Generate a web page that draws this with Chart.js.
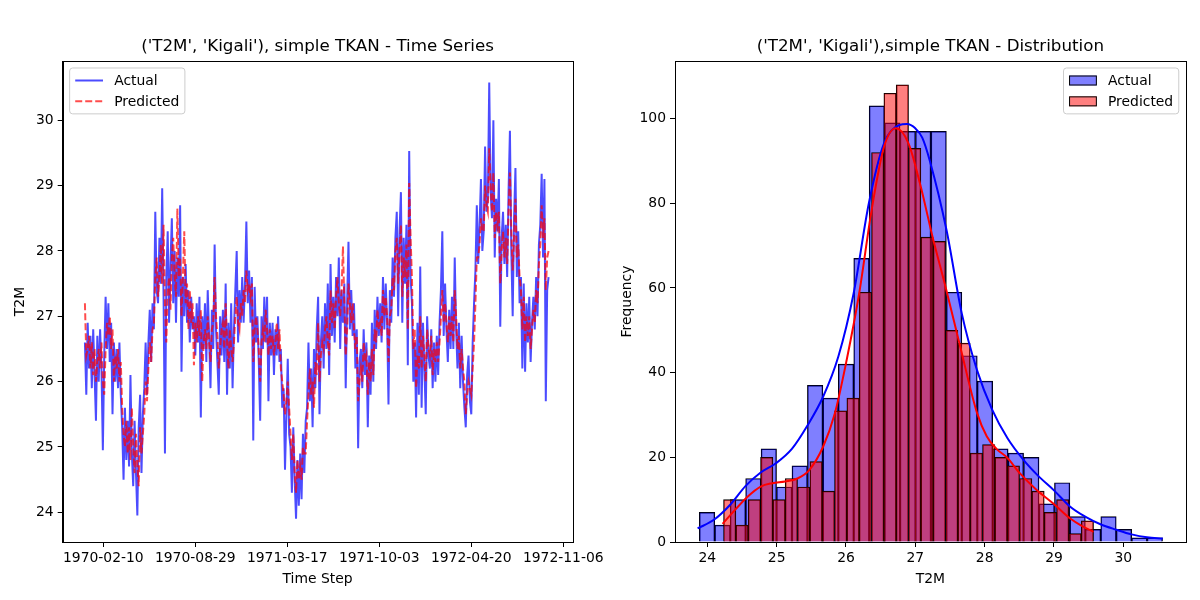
<!DOCTYPE html>
<html>
<head>
<meta charset="utf-8">
<title>T2M Kigali - simple TKAN</title>
<script src="https://cdn.jsdelivr.net/npm/chart.js@4.4.1/dist/chart.umd.min.js"></script>
<style>
  html, body { margin: 0; padding: 0; background: #fff; }
  #wrap { position: relative; width: 1200px; height: 600px; overflow: hidden; }
  canvas { position: absolute; top: 0; }
  #ts { left: 0; }
  #dist { left: 600px; }
</style>
</head>
<body>
<div id="wrap">
  <canvas id="ts" width="620" height="600"></canvas>
  <canvas id="dist" width="600" height="600"></canvas>
</div>
<script>
// ---- time series (one value every 3 days) ----
const startDate = '1970-01-01';
const stepDays = 3;
const dateTicks = ['1970-02-10', '1970-08-29', '1971-03-17', '1971-10-03', '1972-04-20', '1972-11-06'];

const actualT2M = [
  26.6, 25.8, 26.9, 26.2, 26.7, 25.9, 26.8, 26.1, 25.4, 26.7,
  26.0, 26.8, 26.2, 24.95, 26.4, 27.3, 26.5, 27.2, 26.3, 26.9,
  25.5, 26.6, 26.0, 26.5, 25.9, 26.6, 25.8, 25.3, 24.5, 25.6,
  24.8, 25.4, 24.7, 26.1, 24.9, 24.4, 25.4, 24.6, 23.95, 25.3,
  25.8, 24.6, 25.5, 25.9, 26.6, 25.8, 26.6, 27.1, 26.3, 27.2,
  26.8, 28.6, 27.4, 27.2, 28.2, 27.5, 28.96, 27.3, 24.9, 27.6,
  28.3, 26.9, 27.8, 28.5, 27.2, 28.0, 26.9, 27.9, 27.3, 28.7,
  26.15, 27.6, 27.0, 27.8, 26.9, 27.4, 26.6, 27.3, 26.8, 27.0,
  26.4, 27.2, 26.6, 27.3, 25.45, 27.0, 26.5, 27.2, 26.3, 27.4,
  26.7, 25.9, 27.1, 26.5, 28.1, 26.8, 26.3, 25.8, 27.0, 26.4,
  27.1, 26.3, 27.5, 25.8, 26.9, 26.2, 27.2, 25.9, 26.8, 27.4,
  28.0, 26.6, 27.4, 26.9, 27.6, 26.9, 27.5, 28.45, 27.2, 27.7,
  26.9, 27.6, 25.1, 27.45, 26.6, 27.0, 26.3, 25.4, 27.0, 26.5,
  27.3, 26.6, 27.3, 25.7, 26.9, 26.4, 26.9, 26.1, 26.8, 26.4,
  27.0, 26.3, 26.5, 25.6, 25.9, 24.65, 25.5, 26.35, 25.2, 25.0,
  24.3, 25.3, 24.5, 23.9, 24.8, 24.1, 24.9, 24.2, 25.2, 24.6,
  25.4, 25.6, 26.6, 25.7, 26.2, 25.3, 26.5, 25.9, 26.8, 27.3,
  25.5, 26.6, 27.0, 26.2, 27.2, 26.5, 27.5, 26.1, 27.8, 26.7,
  27.3, 26.6, 27.6, 27.0, 27.9, 26.5, 27.4, 26.9, 27.5, 25.9,
  27.2, 28.14, 26.8, 27.4, 26.7, 27.2, 26.2, 26.8, 24.98, 26.3,
  26.5, 25.9, 26.8, 26.1, 26.6, 25.3, 26.4, 25.8, 26.9, 26.0,
  27.1, 26.5, 27.3, 26.7, 27.2, 26.6, 27.6, 26.8, 27.5, 26.9,
  25.65, 27.4, 26.9, 27.9, 27.3, 28.2, 28.6, 27.0, 28.3, 28.9,
  26.9, 28.2, 27.5, 28.4, 26.25, 29.53, 27.6, 27.2, 26.0, 26.6,
  25.45, 26.9, 25.8, 27.76, 25.6, 26.9, 26.2, 25.5, 27.0, 26.4,
  26.2, 26.8, 25.9, 26.6, 26.0, 26.7, 26.1, 26.9, 27.4, 28.3,
  26.7, 27.5, 26.8, 26.3, 27.1, 26.5, 27.3, 26.5, 27.9, 26.8,
  26.2, 26.9, 25.9, 26.7, 26.0, 25.6, 25.3, 26.1, 26.4, 25.7,
  25.5, 26.6, 27.2, 27.7, 28.7, 27.8, 28.4, 29.1, 28.0, 28.3,
  29.6, 28.6, 28.8, 30.58, 28.9, 28.5, 30.0, 27.9, 28.8, 28.3,
  29.1, 26.84, 28.2, 28.6, 27.8, 28.4, 27.6, 28.9, 29.84, 28.0,
  27.0, 28.5, 29.27, 27.6, 28.3, 27.2, 27.6, 26.2, 27.5, 26.15,
  27.2, 26.6, 27.3, 26.3, 26.9, 27.3, 26.8, 27.6, 27.0, 28.1,
  28.4, 29.18, 27.9, 29.1, 25.7, 27.4, 27.6
];

const predictedT2M = [
  27.2, 26.4, 26.5, 26.7, 26.2, 26.6, 26.1, 26.5, 26.0, 26.3,
  26.5, 26.2, 26.6, 26.0, 25.8, 26.5, 26.9, 26.7, 27.0, 26.5,
  26.8, 26.0, 26.4, 26.2, 26.5, 26.0, 26.3, 25.6, 25.2, 25.0,
  25.4, 24.9, 25.3, 24.8, 25.6, 25.0, 24.6, 25.2, 24.7, 24.4,
  25.3, 24.9, 25.2, 25.5, 26.0, 25.7, 26.2, 26.6, 26.3, 26.8,
  26.9, 27.6, 27.9, 27.3, 27.6, 28.1, 27.5, 28.4, 27.2, 26.6,
  27.4, 27.6, 27.1, 27.9, 28.2, 27.6, 27.3, 28.65, 27.6, 27.9,
  27.0, 27.6, 28.3, 27.2, 27.5, 26.8, 27.4, 26.9, 27.2, 26.25,
  26.9, 26.6, 27.0, 26.7, 27.1, 26.0, 26.6, 26.8, 26.5, 27.0,
  26.6, 26.3, 26.8, 26.9, 27.6, 27.0, 26.7, 26.2, 26.5, 26.8,
  26.9, 26.5, 27.2, 26.6, 26.2, 26.8, 26.5, 26.3, 26.6, 27.0,
  27.3, 26.9, 26.8, 27.2, 27.0, 27.4, 27.2, 27.7, 27.4, 27.5,
  27.3, 27.5, 26.3, 26.8, 27.0, 26.8, 26.5, 26.0, 26.6, 26.8,
  26.6, 27.1, 26.8, 26.4, 26.8, 26.5, 26.7, 26.4, 26.6, 26.9,
  26.5, 26.8, 26.2, 26.0, 25.8, 25.5, 25.7, 26.0, 25.6, 25.2,
  24.8, 25.2, 24.6, 24.3, 24.8, 24.5, 24.7, 24.5, 25.0, 24.9,
  24.9, 25.4, 25.8, 26.2, 25.8, 26.0, 25.6, 26.3, 26.1, 26.9,
  26.0, 26.4, 26.6, 26.5, 26.8, 27.0, 26.6, 26.4, 27.4, 26.9,
  27.2, 26.8, 27.3, 27.6, 27.2, 27.0, 27.4, 28.07, 27.2, 26.4,
  26.8, 27.5, 27.2, 26.9, 27.2, 26.8, 26.5, 26.7, 25.7, 26.0,
  26.2, 26.0, 26.6, 26.3, 26.4, 25.8, 26.3, 26.0, 26.5, 26.1,
  26.8, 26.6, 27.1, 26.8, 26.9, 26.7, 27.4, 27.0, 27.3, 27.0,
  26.3, 27.0, 27.1, 27.6, 27.4, 28.0, 28.2, 27.5, 28.0, 28.4,
  27.3, 27.9, 27.6, 28.1, 26.8, 29.04, 28.2, 27.6, 26.5, 26.8,
  25.9, 26.4, 26.2, 27.0, 26.2, 26.7, 26.4, 26.0, 26.8, 26.5,
  26.4, 26.7, 26.1, 26.5, 26.3, 26.6, 26.3, 26.6, 27.0, 27.4,
  26.9, 27.2, 26.9, 26.6, 27.0, 26.7, 27.0, 26.6, 27.4, 27.0,
  26.5, 26.7, 26.2, 26.5, 26.2, 26.0, 25.5, 25.8, 26.0, 25.9,
  25.8, 26.2, 26.6, 27.2, 27.9, 27.9, 28.1, 28.5, 28.3, 28.3,
  29.0, 28.7, 28.6, 29.57, 29.0, 28.6, 29.2, 28.2, 28.6, 28.4,
  28.6, 27.5, 28.0, 28.3, 27.9, 28.2, 27.8, 28.6, 29.2, 28.3,
  27.7, 28.2, 28.8, 27.9, 28.1, 27.6, 27.4, 26.8, 27.3, 26.6,
  27.0, 26.7, 27.0, 26.5, 26.8, 27.1, 26.9, 27.4, 27.2, 27.8,
  28.1, 28.7, 28.2, 28.5, 27.4, 27.9, 28.0
];

// ---- histograms (30 bins each) ----
const actualBinStart = 23.885, actualBinWidth = 0.2227;
const actualCounts = [7, 4, 10, 15, 22, 13, 18, 37, 34, 42, 67, 103, 99, 97, 97,
                      97, 59, 44, 38, 22, 21, 20, 9, 14, 6, 3, 6, 3, 1, 1];
const predBinStart = 24.234, predBinWidth = 0.1779;
const predCounts = [10, 4, 10, 20, 10, 15, 13, 19, 12, 31, 34, 59, 92, 106, 108,
                    93, 72, 71, 50, 47, 21, 23, 20, 18, 15, 12, 7, 10, 2, 5];

// ---- KDE curves ----
const kdeActualX = [23.86, 24.10, 24.33, 24.55, 24.77, 24.99, 25.22, 25.44, 25.67, 25.89, 26.11, 26.33,
  26.55, 26.77, 26.88, 27.0, 27.1, 27.21, 27.45, 27.67, 27.89, 28.11, 28.33, 28.56, 28.78, 29.0,
  29.23, 29.45, 29.67, 29.9, 30.12, 30.34, 30.57];
const kdeActualY = [3.2, 5.3, 8.8, 13.2, 16.4, 18.6, 22.0, 27.4, 34.3, 43.8, 58.7, 80.0,
  94.2, 98.5, 98.7, 97.7, 95.5, 90.0, 73.7, 54.0, 40.6, 31.2, 24.5, 19.4, 15.5, 12.2,
  8.4, 6.0, 4.2, 2.9, 1.8, 1.1, 0.8];
const kdePredX = [24.22, 24.40, 24.58, 24.77, 24.94, 25.12, 25.30, 25.47, 25.67, 25.84, 26.01, 26.19,
  26.37, 26.55, 26.72, 26.9, 27.07, 27.25, 27.44, 27.65, 27.89, 28.03, 28.17, 28.32, 28.51, 28.75,
  28.99, 29.23, 29.4, 29.57];
const kdePredY = [4.3, 7.6, 10.7, 13.1, 13.9, 14.3, 15.0, 17.0, 22.5, 30.4, 43.0, 58.7,
  78.4, 93.4, 97.7, 94.2, 84.5, 72.0, 60.0, 46.0, 30.5, 25.0, 22.0, 20.0, 16.2, 12.3,
  9.1, 5.6, 3.8, 2.4];

// ---------------------------------------------------------------
const DAY = 86400000;
const startDay = Date.parse(startDate) / DAY;
const FS = 13.9;

Chart.defaults.font.family = '"DejaVu Sans", sans-serif';
Chart.defaults.font.size = FS;
Chart.defaults.color = '#000';

// full box around the plot area, like matplotlib spines
const frame = {
  id: 'frame',
  afterDraw(chart) {
    const { ctx, chartArea: a } = chart;
    ctx.save();
    ctx.strokeStyle = '#000';
    ctx.lineWidth = 1;
    ctx.strokeRect(Math.round(a.left) + 0.5, Math.round(a.top) + 0.5,
      Math.round(a.right - a.left), Math.round(a.bottom - a.top));
    ctx.restore();
  }
};

// matplotlib-style legend drawn inside the plot area
const mplLegend = {
  id: 'mplLegend',
  afterDraw(chart, args, opts) {
    const { ctx, chartArea: a } = chart;
    const items = chart.data.datasets.filter(d => d.legendStyle);
    const pad = 0.4 * FS, handle = 2 * FS, gap = 0.8 * FS, rowH = FS, space = 0.5 * FS, margin = 0.5 * FS;
    ctx.save();
    ctx.font = FS + 'px "DejaVu Sans", sans-serif';
    const tw = Math.max(...items.map(d => ctx.measureText(d.label).width));
    const w = pad * 2 + handle + gap + tw;
    const h = pad * 2 + items.length * rowH + (items.length - 1) * space;
    const x0 = opts.loc === 'upper right' ? a.right - margin - w : a.left + margin;
    const y0 = a.top + margin;

    ctx.beginPath();
    ctx.roundRect(x0, y0, w, h, 3);
    ctx.fillStyle = 'rgba(255,255,255,0.8)';
    ctx.fill();
    ctx.strokeStyle = '#cccccc';
    ctx.lineWidth = 1;
    ctx.stroke();

    items.forEach((d, i) => {
      const cy = y0 + pad + rowH / 2 + i * (rowH + space);
      const hx = x0 + pad;
      if (d.legendStyle === 'line') {
        ctx.beginPath();
        ctx.setLineDash(d.borderDash || []);
        ctx.strokeStyle = d.borderColor;
        ctx.lineWidth = d.borderWidth;
        ctx.moveTo(hx, cy);
        ctx.lineTo(hx + handle, cy);
        ctx.stroke();
        ctx.setLineDash([]);
      } else {
        ctx.fillStyle = d.backgroundColor;
        ctx.fillRect(hx, cy - 5, handle, 10);
        ctx.strokeStyle = '#000';
        ctx.lineWidth = 1;
        ctx.strokeRect(hx + 0.5, cy - 4.5, handle - 1, 9);
      }
      ctx.fillStyle = '#000';
      ctx.textBaseline = 'middle';
      ctx.textAlign = 'left';
      ctx.fillText(d.label, hx + handle + gap, cy + 1);
    });
    ctx.restore();
  }
};

const tickGrid = { drawOnChartArea: false, drawTicks: true, tickLength: 5, color: '#000', lineWidth: 1 };
const border = { display: true, color: '#000', width: 1 };
const titleFont = { size: 16.7, weight: 'normal' };

// ---------------- left: time series ----------------
const dayOf = i => startDay + i * stepDays;

new Chart(document.getElementById('ts'), {
  type: 'line',
  data: {
    datasets: [
      {
        label: 'Actual',
        data: actualT2M.map((v, i) => ({ x: dayOf(i), y: v })),
        borderColor: 'rgba(0,0,255,0.7)',
        borderWidth: 2,
        pointRadius: 0,
        tension: 0,
        order: 1,
        legendStyle: 'line'
      },
      {
        label: 'Predicted',
        data: predictedT2M.map((v, i) => ({ x: dayOf(i), y: v })),
        borderColor: 'rgba(255,0,0,0.7)',
        borderWidth: 2,
        borderDash: [7, 3],
        pointRadius: 0,
        tension: 0,
        order: 0,
        legendStyle: 'line'
      }
    ]
  },
  options: {
    responsive: false,
    animation: false,
    layout: { padding: { left: 8, right: 47.7, top: 0, bottom: 8 } },
    plugins: {
      legend: { display: false },
      tooltip: { enabled: false },
      title: {
        display: true,
        fullSize: false,
        text: "('T2M', 'Kigali'), simple TKAN - Time Series",
        font: titleFont,
        padding: { top: 37, bottom: 4 }
      },
      mplLegend: { loc: 'upper left' }
    },
    scales: {
      x: {
        type: 'linear',
        min: -48.3,
        max: 1059.6,
        grid: tickGrid,
        border: border,
        afterBuildTicks: s => { s.ticks = dateTicks.map(t => ({ value: Date.parse(t) / DAY })); },
        afterFit: s => { s.height = 50; },
        ticks: {
          padding: 3,
          maxRotation: 0,
          autoSkip: false,
          callback: v => new Date(v * DAY).toISOString().slice(0, 10)
        },
        title: { display: true, text: 'Time Step', padding: { top: 4, bottom: 4 } }
      },
      y: {
        min: 23.545,
        max: 30.907,
        grid: tickGrid,
        border: border,
        afterFit: s => { s.width = 54.7; },
        ticks: { stepSize: 1, includeBounds: false, padding: 4 },
        title: { display: true, text: 'T2M', padding: { top: 4, bottom: 4 } }
      }
    }
  },
  plugins: [frame, mplLegend]
});

// ---------------- right: distribution ----------------
const binCenters = (start, width, n) => Array.from({ length: n }, (_, i) => start + (i + 0.5) * width);
const actualCenters = binCenters(actualBinStart, actualBinWidth, actualCounts.length);
const predCenters = binCenters(predBinStart, predBinWidth, predCounts.length);
const xMin = 23.534, xMax = 30.90;

new Chart(document.getElementById('dist'), {
  type: 'bar',
  data: {
    datasets: [
      {
        label: 'Actual',
        data: actualCounts.map((c, i) => ({ x: actualCenters[i], y: c })),
        backgroundColor: 'rgba(0,0,255,0.5)',
        borderColor: '#000',
        borderWidth: 0.8,
        xAxisID: 'x',
        order: 3,
        legendStyle: 'patch'
      },
      {
        label: 'Predicted',
        data: predCounts.map((c, i) => ({ x: predCenters[i], y: c })),
        backgroundColor: 'rgba(255,0,0,0.5)',
        borderColor: '#000',
        borderWidth: 0.8,
        xAxisID: 'x2',
        order: 2,
        legendStyle: 'patch'
      },
      {
        type: 'line',
        label: 'Actual KDE',
        data: kdeActualX.map((x, i) => ({ x, y: kdeActualY[i] })),
        borderColor: '#0000ff',
        borderWidth: 2,
        pointRadius: 0,
        cubicInterpolationMode: 'monotone',
        xAxisID: 'x',
        order: 1
      },
      {
        type: 'line',
        label: 'Predicted KDE',
        data: kdePredX.map((x, i) => ({ x, y: kdePredY[i] })),
        borderColor: '#ff0000',
        borderWidth: 2,
        pointRadius: 0,
        cubicInterpolationMode: 'monotone',
        xAxisID: 'x',
        order: 0
      }
    ]
  },
  options: {
    responsive: false,
    animation: false,
    barPercentage: 1,
    categoryPercentage: 1,
    grouped: false,
    layout: { padding: { left: 14.6, right: 14.3, top: 0, bottom: 8 } },
    plugins: {
      legend: { display: false },
      tooltip: { enabled: false },
      title: {
        display: true,
        fullSize: false,
        text: "('T2M', 'Kigali'),simple TKAN - Distribution",
        font: titleFont,
        padding: { top: 37, bottom: 4 }
      },
      mplLegend: { loc: 'upper right' }
    },
    scales: {
      x: {
        type: 'linear',
        min: xMin,
        max: xMax,
        offset: false,
        grid: Object.assign({}, tickGrid, { offset: false }),
        border: border,
        afterFit: s => { s.height = 50; },
        ticks: { stepSize: 1, includeBounds: false, padding: 3, maxRotation: 0 },
        title: { display: true, text: 'T2M', padding: { top: 4, bottom: 4 } }
      },
      x2: {
        type: 'linear',
        display: false,
        min: xMin,
        max: xMax,
        offset: false,
        ticks: { stepSize: 1 }
      },
      y: {
        min: 0,
        max: 113.6,
        grid: tickGrid,
        border: border,
        afterFit: s => { s.width = 60.4; },
        ticks: { stepSize: 20, includeBounds: false, padding: 4 },
        title: { display: true, text: 'Frequency', padding: { top: 4, bottom: 4 } }
      }
    }
  },
  plugins: [frame, mplLegend]
});
</script>
</body>
</html>
